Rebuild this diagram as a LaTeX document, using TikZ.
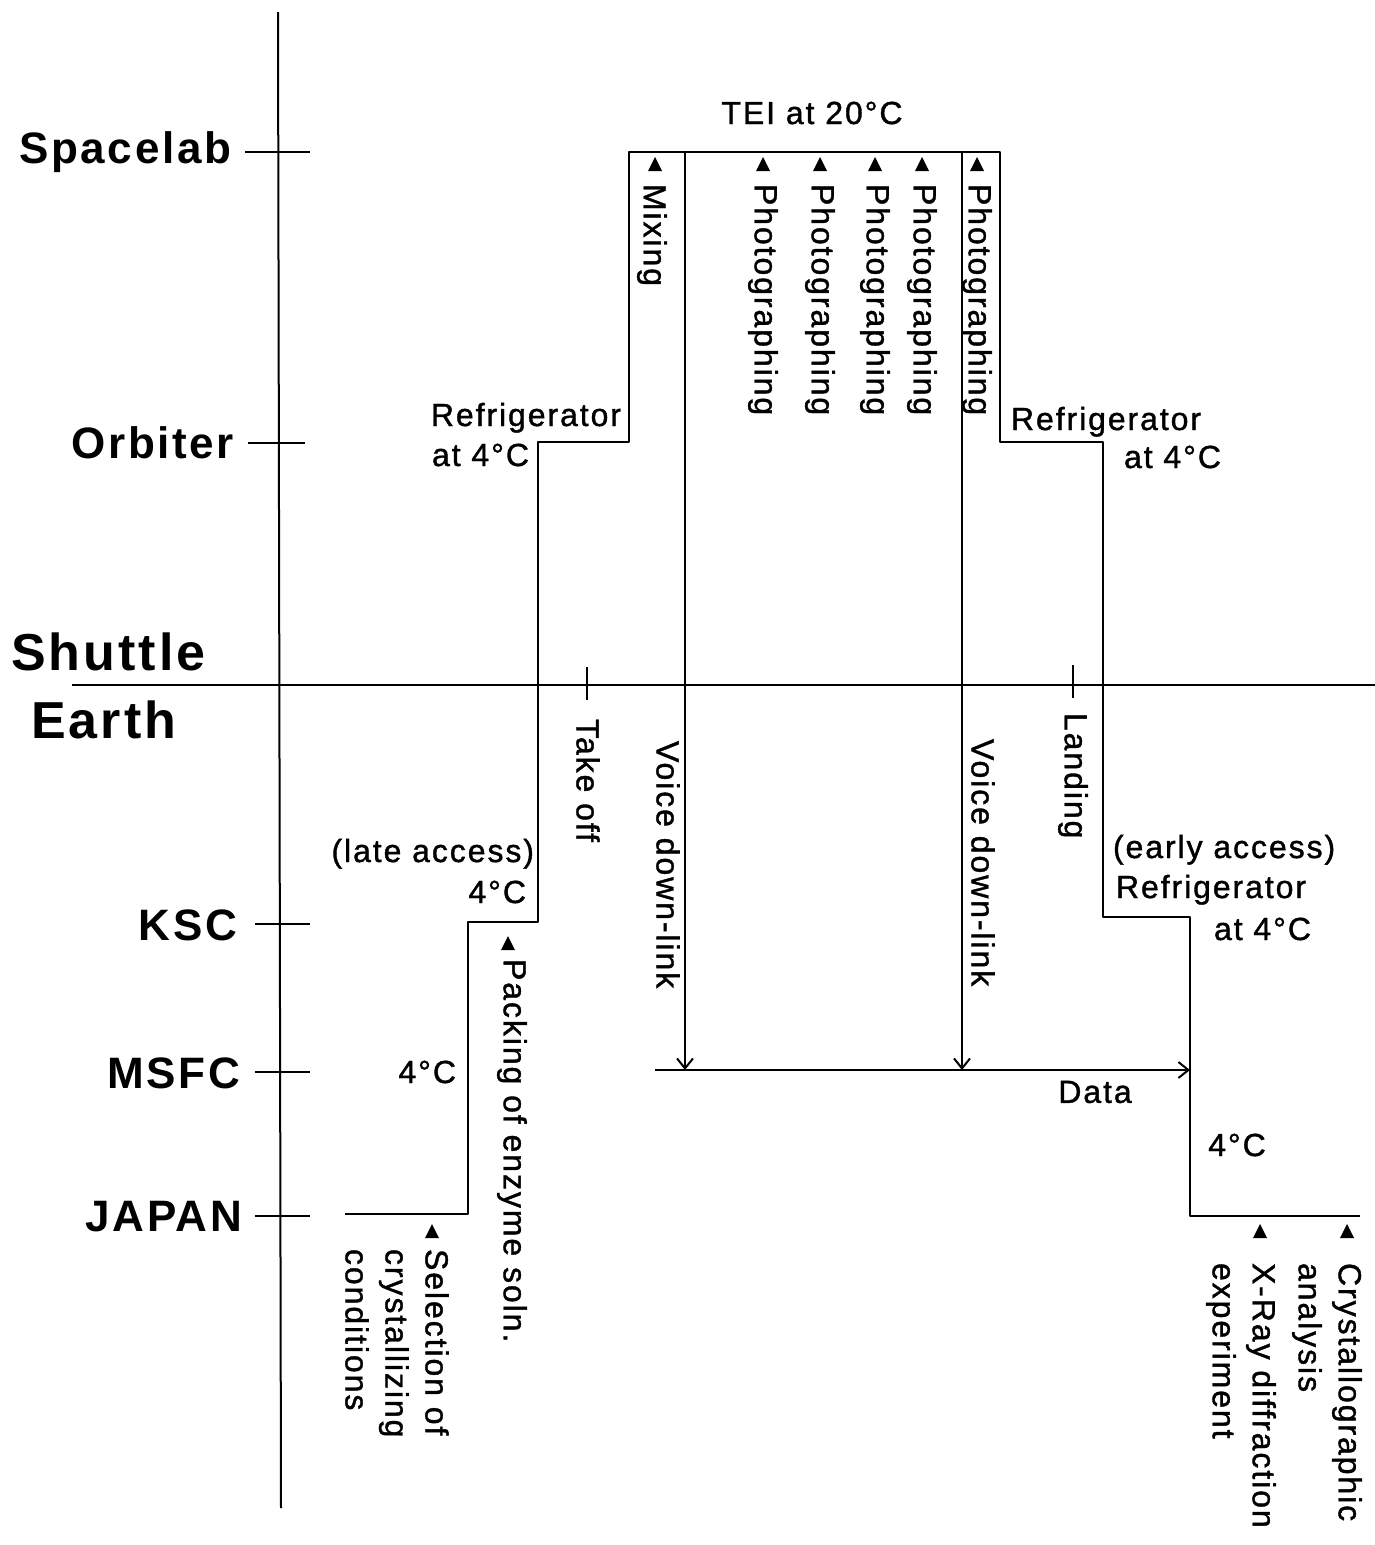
\documentclass[tikz,border=0pt]{standalone}
\usepackage{fontspec}
\setmainfont{Liberation Sans}[LetterSpace=6]
\newfontfamily\lblfont{Liberation Sans}[LetterSpace=6,FakeBold=1.2]
\usetikzlibrary{arrows.meta}
% small filled marker pointing up, apex given
\newcommand{\uptri}[1]{\fill #1 -- ++(-7,14) -- ++(14,0) -- cycle;}
\begin{document}
\begin{tikzpicture}[x=1pt,y=-1pt,line width=2pt,
  lbl/.style={font=\lblfont\fontsize{32}{40}\selectfont,inner sep=0pt},
  lvl/.style={font=\fontsize{44}{48}\selectfont\bfseries,inner sep=0pt,anchor=east},
  big/.style={font=\fontsize{52}{56}\selectfont\bfseries,inner sep=0pt,anchor=west},
  vlbl/.style={lbl,rotate=-90,anchor=west,align=left},
  arr/.style={-{Straight Barb[length=10pt,width=16pt]}}]
  \useasboundingbox (0,0) rectangle (1375,1545);
  % time axis and the shuttle/earth divide
  \draw (278,12) -- (281,1508);
  \draw (72,685) -- (1375,685);
  \node[big] (shuttle) at (10,652) {Shuttle};
  \node[big] (earth) at (30,720) {Earth};
  % levels
  \node[lvl] (spacelab) at (232,152) {Spacelab};
  \node[lvl] (orbiter) at (235,443) {Orbiter};
  \node[lvl] (ksc) at (238,925) {KSC};
  \node[lvl] (msfc) at (241,1073) {MSFC};
  \node[lvl] (japan) at (243,1217) {JAPAN};
  \draw (245,152) -- (310,152);
  \draw (248,443) -- (305,443);
  \draw (255,924) -- (310,924);
  \draw (255,1072) -- (310,1072);
  \draw (255,1216) -- (310,1216);
  % path of the samples
  \draw[line join=round] (345,1214) -- (468,1214) -- (468,922) -- (538,922)
    -- (538,442) -- (629,442) -- (629,152) -- (1000,152) -- (1000,442)
    -- (1103,442) -- (1103,917) -- (1190,917) -- (1190,1216) -- (1360,1216);
  % voice down-link and data
  \coordinate (vd1) at (685,152);
  \coordinate (vd2) at (962,152);
  \coordinate (d0) at (655,1070);
  \coordinate (d1) at (1190,1070);
  \draw[arr] (vd1) -- (vd1 |- d0);
  \draw[arr] (vd2) -- (vd2 |- d0);
  \draw[arr] (d0) -- (d1);
  % take off and landing
  \draw (587,667) -- (587,700);
  \draw (1073,665) -- (1073,698);
  % horizontal labels
  \node[lbl] (tei) at (812,113) {TEI at 20°C};
  \node[lbl,anchor=base east] (ref1) at (622,426) {Refrigerator};
  \node[lbl,anchor=base east] (at1) at (530,466) {at 4°C};
  \node[lbl,anchor=base west] (ref2) at (1010,430) {Refrigerator};
  \node[lbl,anchor=base east] (at2) at (1222,468) {at 4°C};
  \node[lbl,anchor=base east] (late) at (535,862) {(late access)};
  \node[lbl,anchor=base east] (ksct) at (527,903) {4°C};
  \node[lbl,anchor=base west] (early) at (1112,858) {(early access)};
  \node[lbl,anchor=base west] (ref3) at (1115,898) {Refrigerator};
  \node[lbl,anchor=base east] (at3) at (1312,940) {at 4°C};
  \node[lbl,anchor=base east] (msfct) at (457,1083) {4°C};
  \node[lbl] (data) at (1095,1092) {Data};
  \node[lbl] (endt) at (1237,1145) {4°C};
  % events, read downwards
  \uptri{(655,157)}
  \node[vlbl] (mix) at (652,183) {Mixing};
  \foreach \x in {763,820,875,922,977} {
    \uptri{(\x,157)}
    \node[vlbl] at (\x,183) {Photographing};
  }
  \node[vlbl] (takeoff) at (588,718) {Take off};
  \node[vlbl] (voice1) at (668,740) {Voice down-link};
  \node[vlbl] (voice2) at (983,738) {Voice down-link};
  \node[vlbl] (landing) at (1073,712) {Landing};
  \uptri{(508,936)}
  \node[vlbl] (pack) at (512,958) {Packing of enzyme soln.};
  \uptri{(432,1224)}
  \node[vlbl] (select) at (397,1248) {Selection of\\crystallizing\\conditions};
  \uptri{(1347,1224)}
  \node[vlbl] (cryst) at (1327,1262) {Crystallographic\\analysis};
  \uptri{(1260,1224)}
  \node[vlbl] (xray) at (1241,1262) {X-Ray diffraction\\experiment};
\end{tikzpicture}
\end{document}
